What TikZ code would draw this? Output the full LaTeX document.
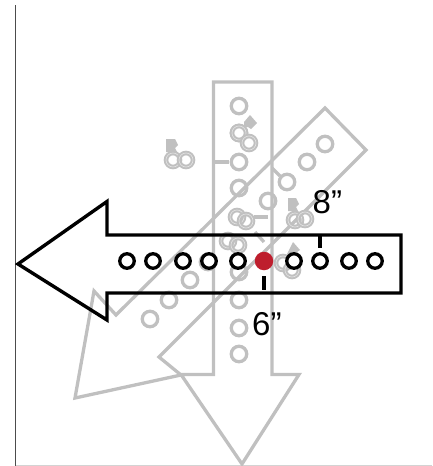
\documentclass[tikz,border=0pt]{standalone}
\usepackage{fontspec}
\setmainfont{Liberation Sans}
\definecolor{gr}{HTML}{C0C0C0}
\definecolor{redd}{HTML}{BE1E2D}
\tikzset{
  x=1pt,y=-1pt,
  grayline/.style={draw=gr,line width=3.3pt,miter limit=10},
  blackline/.style={draw=black,line width=3.4pt,miter limit=10},
  ghole/.style={circle,draw=gr,line width=3.3pt,minimum size=15.5pt,inner sep=0pt},
  dhole/.style={circle,draw=gr,line width=4.6pt,minimum size=14pt,inner sep=0pt},
  dinner/.style={circle,draw=gr!45,line width=.6pt,minimum size=14pt,inner sep=0pt},
  bhole/.style={circle,draw=black,fill=white,line width=3.3pt,minimum size=14.5pt,inner sep=0pt},
  dim/.style={font=\fontsize{33}{33}\selectfont,inner sep=0pt,anchor=base west},
}
\newcommand{\dblhole}[2]{\node[dhole] at (#1,#2) {};\node[dinner] at (#1,#2) {};}
\begin{document}
\begin{tikzpicture}
\useasboundingbox (0,0) rectangle (432,466);
% axes
\draw[draw=black!70,line width=1.3pt] (15.5,5) -- (15.5,466);
\draw[draw=gr!70,line width=1pt] (15.5,465.5) -- (432,465.5);
% gray arrows
\draw[grayline] (213.5,82) -- (272,82) -- (272,374.5) -- (299,374.5) -- (242,464) -- (181,374.5) -- (213.5,374.5) -- cycle;
\draw[grayline] (325,108) -- (366,150) -- (159,357) -- (181,375) -- (75,398) -- (94,291) -- (116,315) -- cycle;
% gray ticks
\draw[grayline] (214,162) -- (229,162);
\draw[grayline] (272,168) -- (280,176);
\draw[grayline] (254,217) -- (268,217);
\draw[grayline] (255,232) -- (264,242);
% vertical row
\foreach \yy in {106,133,162,188,300,328,354} \node[ghole] at (239,\yy) {};
\node[ghole] at (239,272) {};
% diagonal row
\foreach \xx/\yy in {325/144,307/162,287/182,268/201,208/262,190/280,169/300,150/319} \node[ghole] at (\xx,\yy) {};
% stamps
\foreach \xx/\yy in {173/160,186/160,239/133,249/143,295/220,305/219,283/263,292/270,228/241,238/245,237/217,246/221} {\dblhole{\xx}{\yy}}
\fill[gr] (166,139) -- (175,139) -- (178,145) -- (175,148) -- (177,152) -- (166,152) -- cycle;
\fill[gr] (250,115) -- (257,123) -- (251,129) -- (248,127) -- (244,127) -- (244,122) -- cycle;
\fill[gr] (288,198) -- (296,198) -- (299,204) -- (296,207) -- (298,211) -- (288,211) -- cycle;
\fill[gr] (293,242) -- (300,250) -- (294,254) -- (287,254) -- cycle;
% black arrow
\draw[blackline] (18,264) -- (107,201.5) -- (107,235) -- (401,235) -- (401,293) -- (107,293) -- (107,320) -- cycle;
\foreach \xx in {127,153,183,209,238,294,349,375} \node[bhole] at (\xx,261) {};
\node[circle,fill=redd,minimum size=18.5pt,inner sep=0pt] (pivot) at (264,261) {};
\node[bhole] (h8) at (320,261) {};
\coordinate (top8) at (320,235);
\coordinate (low8) at (320,248);
\coordinate (low6) at (264,290);
\coordinate (low6b) at (264,276);
\draw[blackline] (top8) -- (low8);
\draw[blackline] (low6b) -- (low6);
\node[dim] (eight) at (312.5,213.5) {8”};
\node[dim] (six) at (252,335) {6”};
\end{tikzpicture}
\end{document}
